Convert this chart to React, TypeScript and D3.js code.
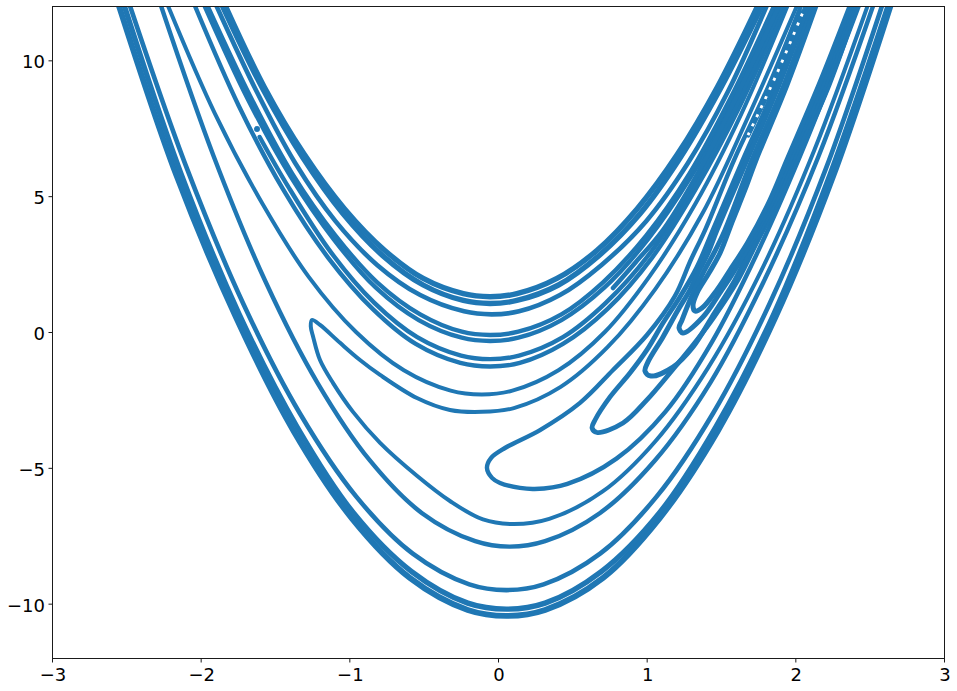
import React from "react";
import * as d3 from "d3";

type P = [number, number];

const xTickValues = [-3, -2, -1, 0, 1, 2, 3];
const yTickValues = [-10, -5, 0, 5, 10];

const outerLow: P[] = [[-2.556,12],[-2.17,5.77],[-1.77,0.55],[-1.38,-3.66],[-0.99,-6.86],[-0.6,-9.05],[-0.21,-10.23],[0.05,-10.45],[0.31,-10.23],[0.7,-9.05],[1.08,-6.86],[1.47,-3.66],[1.86,0.55],[2.25,5.77],[2.633,12]];
const outerHigh: P[] = [[-2.52,12],[-2.14,5.84],[-1.75,0.68],[-1.36,-3.48],[-0.98,-6.65],[-0.59,-8.81],[-0.21,-9.98],[0.05,-10.2],[0.31,-9.98],[0.69,-8.81],[1.08,-6.65],[1.46,-3.48],[1.85,0.68],[2.23,5.84],[2.617,12]];
const stripB: P[] = [[-2.482,12],[-2.1,6.03],[-1.72,1.04],[-1.34,-2.99],[-0.96,-6.06],[-0.58,-8.16],[-0.2,-9.29],[0.05,-9.5],[0.3,-9.29],[0.68,-8.16],[1.06,-6.06],[1.44,-2.99],[1.82,1.04],[2.2,6.03],[2.576,12]];
const stripC: P[] = [[-2.273,12],[-1.92,6.48],[-1.57,1.85],[-1.22,-1.88],[-0.87,-4.72],[-0.52,-6.66],[-0.16,-7.7],[0.07,-7.9],[0.31,-7.7],[0.68,-6.66],[1.05,-4.72],[1.42,-1.88],[1.78,1.85],[2.15,6.48],[2.516,12]];
const foldLeft: P[] = [[2.004,12],[1.67,7.85],[1.37,4.38],[1.05,1.57],[0.73,-0.56],[0.415,-2.02],[0.1,-2.8],[-0.114,-2.94],[-0.33,-2.87],[-0.552,-2.43],[-0.8,-1.58],[-0.935,-1.03],[-1.069,-0.4],[-1.204,0.26],[-1.258,0.44],[-1.266,0.2],[-1.25,-0.18],[-1.204,-1.03],[-1.116,-1.88],[-0.982,-2.94],[-0.8,-4.08],[-0.55,-5.3],[-0.33,-6.22],[-0.108,-6.9],[0.1,-7.07],[0.338,-6.88],[0.695,-5.88],[1.052,-4.02],[1.408,-1.3],[1.765,2.27],[2.122,6.71],[2.479,12]];
const stripD: P[] = [[-2.226,12],[-1.91,8.03],[-1.59,4.71],[-1.28,2.03],[-0.96,-0.01],[-0.64,-1.41],[-0.325,-2.16],[-0.115,-2.3],[0.09,-2.16],[0.4,-1.41],[0.71,-0.01],[1.01,2.03],[1.32,4.71],[1.63,8.03],[1.94,12]];
const stripE: P[] = [[-2.045,12],[-1.75,8.32],[-1.45,5.23],[-1.15,2.74],[-0.85,0.85],[-0.56,-0.44],[-0.26,-1.14],[-0.06,-1.27],[0.14,-1.14],[0.43,-0.44],[0.73,0.85],[1.03,2.74],[1.32,5.23],[1.62,8.32],[1.92,12]];
const startStrip: P[] = [[-1.61,7.18],[-1.42,5.37],[-1.13,2.93],[-0.84,1.08],[-0.55,-0.19],[-0.255,-0.87],[-0.06,-1],[0.135,-0.87],[0.43,-0.19],[0.72,1.08],[1.02,2.93],[1.31,5.37],[1.6,8.39],[1.9,12]];
const stripF: P[] = [[-1.98,12],[-1.69,8.58],[-1.4,5.71],[-1.11,3.4],[-0.83,1.64],[-0.54,0.44],[-0.25,-0.21],[-0.06,-0.33],[0.13,-0.21],[0.42,0.44],[0.71,1.64],[1,3.4],[1.29,5.71],[1.58,8.58],[1.87,12]];
const stripG: P[] = [[-1.96,12],[-1.67,8.64],[-1.39,5.82],[-1.1,3.55],[-0.82,1.83],[-0.53,0.65],[-0.25,0.01],[-0.06,-0.11],[0.13,0.01],[0.42,0.65],[0.7,1.83],[0.99,3.55],[1.28,5.82],[1.56,8.64],[1.85,12]];
const stripH: P[] = [[-1.9,12],[-1.63,8.85],[-1.37,6.21],[-1.1,4.08],[-0.82,2.47],[-0.53,1.36],[-0.235,0.76],[-0.05,0.65],[0.135,0.76],[0.41,1.36],[0.69,2.47],[0.99,4.08],[1.27,6.21],[1.54,8.85],[1.8,12]];
const stripI: P[] = [[-1.86,12],[-1.59,8.96],[-1.32,6.42],[-1.05,4.36],[-0.78,2.8],[-0.51,1.73],[-0.24,1.16],[-0.06,1.05],[0.12,1.16],[0.4,1.73],[0.67,2.8],[0.95,4.36],[1.22,6.42],[1.49,8.96],[1.77,12]];
const stripJ: P[] = [[-1.84,12],[-1.58,9.03],[-1.31,6.54],[-1.04,4.54],[-0.77,3.01],[-0.51,1.97],[-0.24,1.41],[-0.06,1.3],[0.12,1.41],[0.39,1.97],[0.66,3.01],[0.93,4.54],[1.2,6.54],[1.47,9.03],[1.74,12]];
const endStrip: P[] = [[0.767,1.62],[0.921,2.58],[1.103,3.75],[1.386,6.33],[1.634,9.09],[1.883,12]];
const hairpin1: P[] = [[2.031,12],[1.816,9.09],[1.581,6.33],[1.386,3.75],[1.29,2.65],[1.183,1.32],[0.995,-0.11],[0.767,-1.4],[0.545,-2.61],[0.276,-3.61],[0.04,-4.27],[-0.054,-4.64],[-0.081,-5],[-0.047,-5.37],[0.007,-5.56],[0.141,-5.74],[0.24,-5.78],[0.46,-5.59],[0.79,-4.66],[1.12,-2.93],[1.43,-0.39],[1.74,2.94],[2.07,7.07],[2.42,12]];
const hairpin2: P[] = [[2.065,12],[1.863,9.09],[1.641,6.33],[1.439,3.75],[1.332,2.39],[1.217,1.29],[1.103,0.33],[0.995,-0.66],[0.881,-1.51],[0.747,-2.39],[0.646,-3.24],[0.626,-3.53],[0.659,-3.7],[0.834,-3.35],[0.995,-2.5],[1.15,-1.51],[1.332,-0.29],[1.446,0.55],[1.607,1.91],[1.735,3.31],[1.883,4.86],[1.998,6.33],[2.22,9.09],[2.408,12]];
const hairpin3: P[] = [[2.085,12],[1.883,9.09],[1.668,6.33],[1.466,3.75],[1.406,2.91],[1.338,2.17],[1.285,1.55],[1.204,0.81],[1.103,-0.18],[1.002,-1.1],[0.982,-1.44],[1.022,-1.62],[1.17,-1.29],[1.305,-0.55],[1.433,0.55],[1.587,1.91],[1.715,3.31],[1.863,4.86],[1.977,6.33],[2.193,9.09],[2.388,12]];
const hairpin4: P[] = [[2.112,12],[1.917,9.09],[1.702,6.33],[1.52,3.75],[1.446,2.91],[1.372,2.17],[1.285,1.18],[1.231,0.44],[1.211,0.15],[1.237,-0.04],[1.372,0.55],[1.486,1.44],[1.574,2.17],[1.695,3.31],[1.843,4.86],[1.957,6.33],[2.172,9.09],[2.374,12]];
const hairpin5: P[] = [[2.132,12],[1.937,9.09],[1.729,6.33],[1.654,5.23],[1.573,4.12],[1.487,2.91],[1.412,2.17],[1.332,1.44],[1.305,0.99],[1.318,0.77],[1.365,0.88],[1.466,1.55],[1.554,2.28],[1.675,3.31],[1.823,4.86],[1.937,6.33],[2.152,9.09],[2.361,12]];
const gapLine: P[] = [[1.675,7.25],[1.86,9.4],[2.045,11.78]];
const loosePoint: P[] = [[-1.628, 7.47]];

const strips: P[][] = [outerLow, outerHigh, stripB, stripC, foldLeft, stripD, stripE, startStrip, stripF, stripG, stripH, stripI, stripJ, endStrip, hairpin1, hairpin2, hairpin3, hairpin4, hairpin5];
const stripWidths = [5.8, 5.4, 4.6, 4.4, 4, 4, 4.4, 4.4, 4.4, 4.4, 4.6, 5.4, 5.4, 4.6, 4.4, 4.8, 5, 5, 5];

const W = 957, H = 691;
const L = 53, R = 945, T = 6, B = 658;
const BLUE = "#1f77b4";

export default function App() {
  const x = d3.scaleLinear().domain([-3, 3]).range([L, R]);
  const y = d3.scaleLinear().domain([-12, 12]).range([B, T]);
  const path = d3.line<P>().x(d => x(d[0])).y(d => y(d[1])).curve(d3.curveCatmullRom);
  const fmt = (v: number) => (v < 0 ? "\u2212" + Math.abs(v) : String(v));
  const font = "'DejaVu Sans', sans-serif";
  return (
    <svg width={W} height={H} style={{ position: "absolute", left: 0, top: 0, display: "block", background: "#fff" }}>
      <defs>
        <clipPath id="plot"><rect x={L} y={T} width={R - L} height={B - T} /></clipPath>
      </defs>
      <g clipPath="url(#plot)" fill="none" stroke={BLUE} strokeLinecap="round" strokeLinejoin="round">
        {strips.map((s, i) => <path key={i} d={path(s) ?? ""} strokeWidth={stripWidths[i]} />)}
        <path d={path(gapLine) ?? ""} strokeWidth={5} />
        <path d={path(gapLine) ?? ""} stroke="#fff" strokeWidth={2.8} strokeLinecap="butt" strokeDasharray="3 7" />
        {loosePoint.map((p, i) => <circle key={i} cx={x(p[0])} cy={y(p[1])} r={3} fill={BLUE} stroke="none" />)}
      </g>
      <rect x={L - 0.5} y={T + 0.5} width={R - L} height={B - T} fill="none" stroke="#1a1a1a" strokeWidth={1} />
      {xTickValues.map(v => (
        <g key={v}>
          <line x1={x(v) - 0.5} x2={x(v) - 0.5} y1={B} y2={B + 4.5} stroke="#1a1a1a" strokeWidth={1} />
          <text x={x(v)} y={681} textAnchor="middle" fontFamily={font} fontSize={18} fill="#000">{fmt(v)}</text>
        </g>
      ))}
      {yTickValues.map(v => (
        <g key={v}>
          <line x1={L - 4.5} x2={L} y1={y(v) + 0.5} y2={y(v) + 0.5} stroke="#1a1a1a" strokeWidth={1} />
          <text x={45} y={y(v) + 8} textAnchor="end" fontFamily={font} fontSize={18} fill="#000">{fmt(v)}</text>
        </g>
      ))}
    </svg>
  );
}
